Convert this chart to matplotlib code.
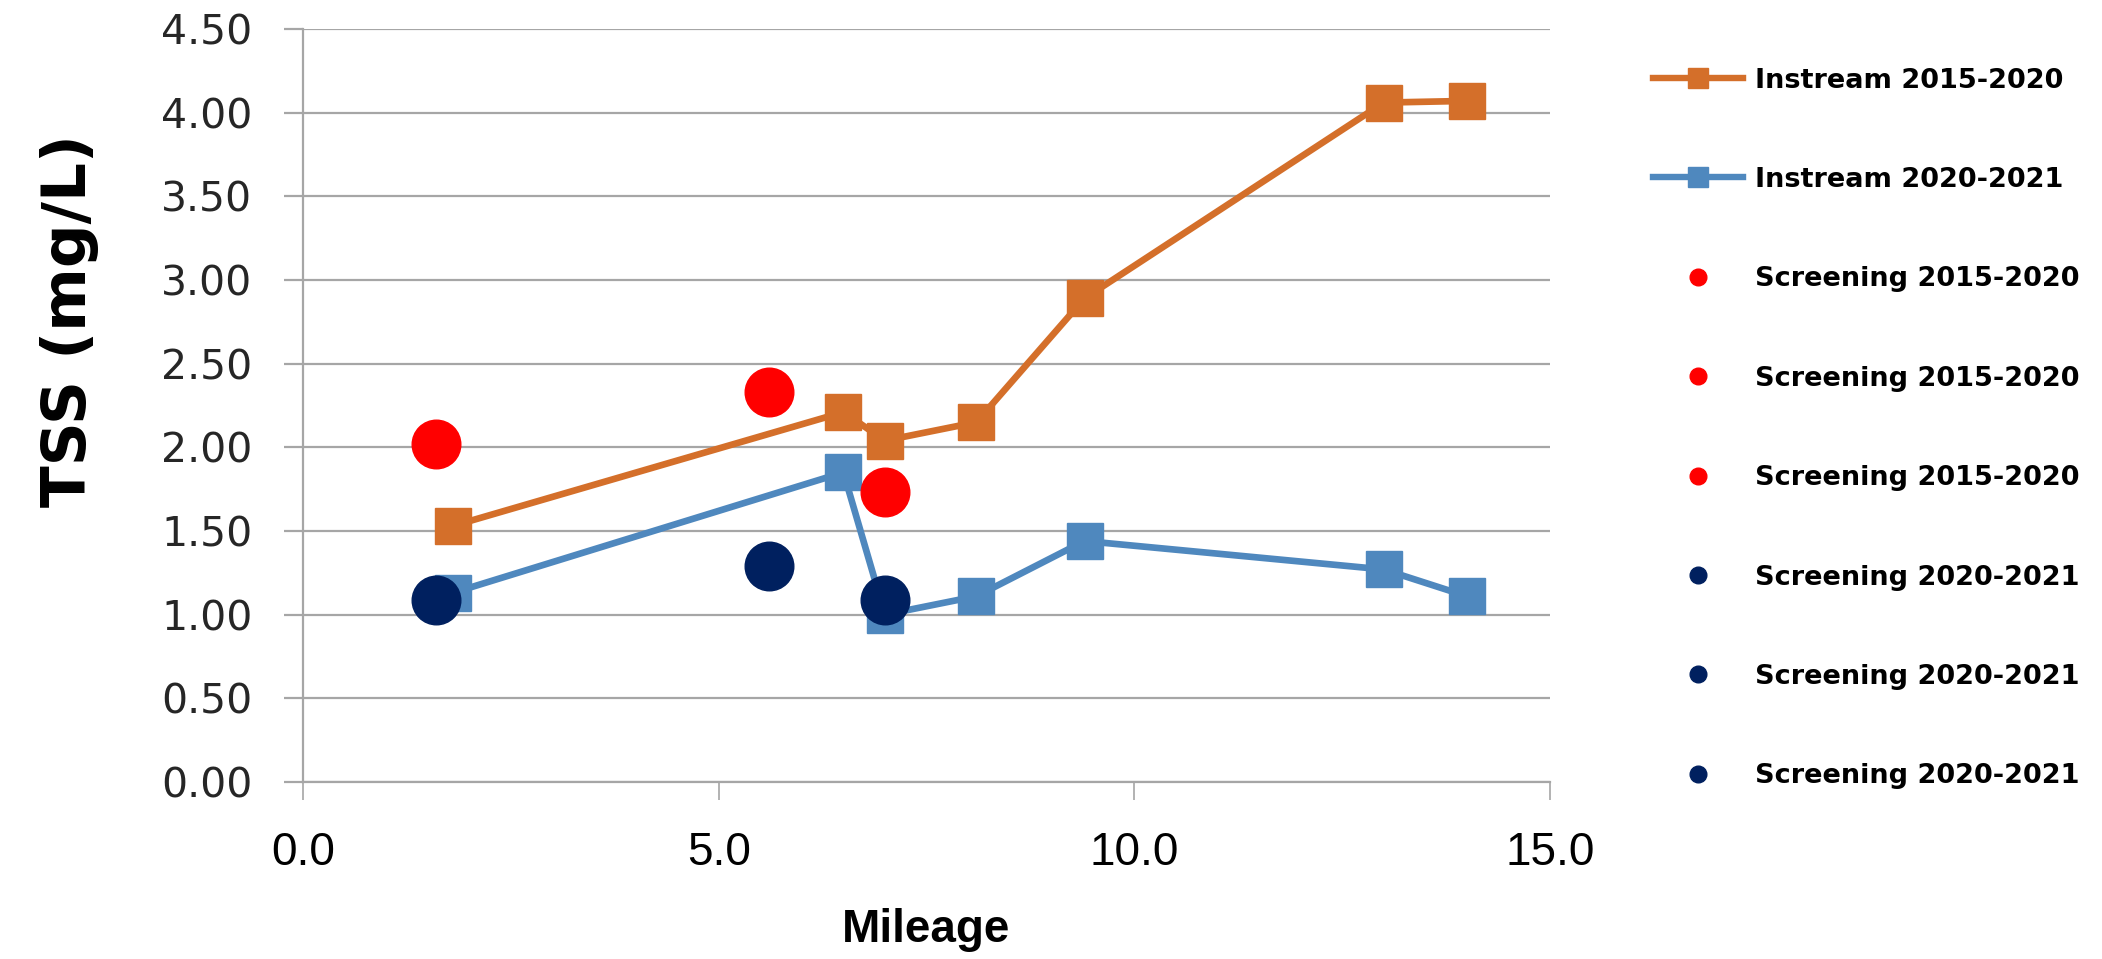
import matplotlib
matplotlib.use("Agg")
import matplotlib.pyplot as plt
from matplotlib.lines import Line2D
from matplotlib import font_manager

# instream data (mileage, TSS mg/L)
instream_mile = [1.8, 6.5, 7.0, 8.1, 9.4, 13.0, 14.0]
instream_1520 = [1.53, 2.21, 2.04, 2.15, 2.89, 4.06, 4.07]
instream_2021 = [1.13, 1.85, 1.00, 1.11, 1.44, 1.27, 1.11]

# screening points, one series each
screen_mile = [1.6, 5.6, 7.0]
screen_1520 = [2.02, 2.33, 1.73]
screen_2021 = [1.09, 1.29, 1.09]

x_ticks = [0.0, 5.0, 10.0, 15.0]
y_ticks = [0.0, 0.5, 1.0, 1.5, 2.0, 2.5, 3.0, 3.5, 4.0, 4.5]

orange = '#D46F2A'
blue = '#4F88BE'
red = '#FF0000'
navy = '#00205F'
grid_c = '#A6A6A6'

avail = set(f.name for f in font_manager.fontManager.ttflist)
narrow = 'Liberation Sans Narrow' if 'Liberation Sans Narrow' in avail else 'Liberation Sans'

fig = plt.figure(figsize=(21.02, 9.59), dpi=100)
ax = fig.add_axes([0.1442, 0.1846, 0.7374 - 0.1442, 0.9698 - 0.1846])

ax.plot(instream_mile, instream_1520, color=orange, lw=4.8, marker='s', ms=26, zorder=3)
ax.plot(instream_mile, instream_2021, color=blue, lw=4.8, marker='s', ms=26, zorder=3)
for x, y in zip(screen_mile, screen_1520):
    ax.plot(x, y, ls='none', marker='o', ms=35, color=red, zorder=4)
for x, y in zip(screen_mile, screen_2021):
    ax.plot(x, y, ls='none', marker='o', ms=35, color=navy, zorder=4)

ax.set_xlim(0, 15)
ax.set_ylim(0, 4.5)
ax.set_xticks(x_ticks)
ax.set_xticklabels(['%.1f' % v for v in x_ticks], family=narrow, fontsize=33)
ax.set_yticks(y_ticks)
ax.set_yticklabels(['%.2f' % v for v in y_ticks], fontsize=29.5, color='#262626')
ax.yaxis.grid(True, color=grid_c, lw=1.6)
ax.set_axisbelow(True)
for s in ['top', 'right']:
    ax.spines[s].set_visible(False)
for s in ['left', 'bottom']:
    ax.spines[s].set_color(grid_c)
    ax.spines[s].set_linewidth(1.6)
ax.tick_params(axis='y', length=13.5, width=1.6, color=grid_c, pad=23)
ax.tick_params(axis='x', length=13, width=1.2, color=grid_c, pad=22)

ax.set_xlabel('Mileage', family=narrow, fontsize=33, fontweight='bold', labelpad=24)
fig.text(0.033, 0.666, 'TSS (mg/L)', rotation=90, ha='center', va='center',
         fontsize=44, fontweight='bold')

# legend with small proxy markers
handles = [
    Line2D([], [], color=orange, lw=4.6, marker='s', ms=14),
    Line2D([], [], color=blue, lw=4.6, marker='s', ms=14),
]
labels = ['Instream 2015-2020', 'Instream 2020-2021']
for i in range(3):
    handles.append(Line2D([], [], ls='none', marker='o', ms=12, color=red))
    labels.append('Screening 2015-2020')
for i in range(3):
    handles.append(Line2D([], [], ls='none', marker='o', ms=12, color=navy))
    labels.append('Screening 2020-2021')
leg = fig.legend(handles, labels, loc='upper left', bbox_to_anchor=(0.775, 0.955),
                 frameon=False, handlelength=3.3, handletextpad=0.45,
                 labelspacing=2.71, prop={'weight': 'bold', 'size': 19.5})

plt.savefig('out.png', dpi=100)
